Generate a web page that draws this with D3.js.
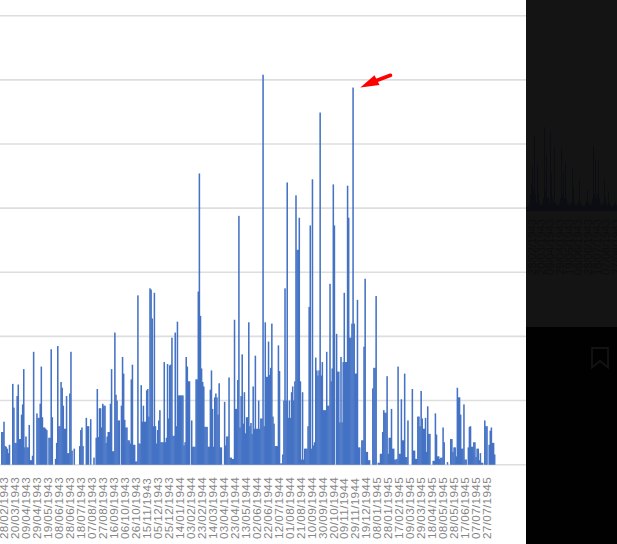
<!DOCTYPE html>
<html><head><meta charset="utf-8">
<style>html,body{margin:0;padding:0;background:#000;overflow:hidden}svg{display:block}</style>
<script src="https://cdn.jsdelivr.net/npm/d3@7"></script>
</head><body><svg id="c" width="617" height="544"></svg>
<script>
// Values, one every two days, starting four days before the first tick label
const seriesValues = [
51,51,67,29,28,25,18,31,0,0,
126,89,34,34,107,125,40,40,78,94,
149,27,44,27,27,62,7,7,14,176,
0,0,80,73,73,95,153,74,58,58,
56,54,0,42,42,180,74,0,0,9,
34,185,60,60,129,120,92,56,56,107,
18,18,111,176,22,0,25,0,0,0,
0,29,54,58,29,0,0,73,60,60,
0,71,0,0,11,0,42,118,43,88,
88,58,95,92,92,34,44,51,51,95,
149,21,21,206,109,100,69,69,0,92,
168,142,70,58,58,38,38,33,133,156,
31,31,5,5,264,33,33,124,67,92,
67,67,116,118,75,275,273,228,60,268,
60,33,54,69,85,35,35,35,160,35,
42,157,72,155,156,198,45,45,206,60,
223,108,108,108,108,108,30,35,168,153,
130,130,0,69,28,28,28,133,133,270,
454,232,150,129,122,59,59,59,28,28,
117,147,87,28,105,111,105,78,127,27,
27,0,0,98,30,44,44,136,11,11,
9,9,226,87,87,132,388,58,107,172,
64,113,49,74,74,222,60,65,48,122,
56,170,56,56,100,56,72,72,608,60,
222,137,137,192,140,151,220,75,64,29,
29,29,186,146,2,2,16,100,275,100,
440,73,100,73,113,122,100,130,420,335,
335,385,130,8,113,8,25,25,25,60,
246,373,25,445,30,35,167,147,139,147,
549,139,160,85,85,85,176,92,92,282,
130,150,437,373,0,204,145,145,66,168,
66,160,268,160,160,435,385,198,198,220,
588,220,142,142,257,27,27,0,38,38,
184,290,20,20,7,7,0,0,119,151,
151,263,0,3,3,17,17,51,85,81,
81,138,17,42,42,87,25,25,8,8,
9,153,17,17,102,38,38,142,12,12,
69,0,0,0,118,22,22,9,9,75,
75,60,115,72,56,56,73,20,91,48,
48,0,0,6,6,80,47,13,13,9,
11,11,58,35,0,0,4,0,0,40,
40,20,27,27,13,120,105,105,78,25,
25,94,8,8,0,27,59,60,28,28,
35,35,12,25,25,7,18,3,3,0,
69,60,60,0,31,53,58,34,34,16
];
const tickLabels = [
"28/02/1943","20/03/1943","09/04/1943","29/04/1943","19/05/1943","08/06/1943","28/06/1943","18/07/1943","07/08/1943",
"27/08/1943","16/09/1943","06/10/1943","26/10/1943","15/11/1943","05/12/1943","25/12/1943","14/01/1944","03/02/1944",
"23/02/1944","14/03/1944","03/04/1944","23/04/1944","13/05/1944","02/06/1944","22/06/1944","12/07/1944","01/08/1944",
"21/08/1944","10/09/1944","30/09/1944","20/10/1944","09/11/1944","29/11/1944","19/12/1944","08/01/1945","28/01/1945",
"17/02/1945","09/03/1945","29/03/1945","18/04/1945","08/05/1945","28/05/1945","17/06/1945","07/07/1945","27/07/1945"
];
const gridValues = [0,100,200,300,400,500,600,700];
// Dimmed copy of the chart seen behind the dark panel
const ghostValues = [
30,30,40,60,120,200,330,150,535,120,60,335,130,60,40,40,60,90,600,150,400,90,100,60,564,270,100,60,457,
60,50,40,40,60,90,450,120,280,90,350,90,60,50,40,40,60,307,170,60,40,40,50,70,220,60,40,40,30,40,50,70,
150,60,50,40,60,90,464,120,370,100,120,357,90,60,40,50,60,228,90,60,40,135,60,40,30,30,40,50,64,40
];
const ghostLabels = tickLabels.slice(0,10);

const svg = d3.select("#c");
const x = d3.scaleLinear().domain([0,880]).range([4,487]);
const y = d3.scaleLinear().domain([0,700]).range([464.7,15.7]);
const step = x(2)-x(0);
const barW = step*1.4;

svg.append("rect").attr("width",526).attr("height",544).attr("fill","#fff");
svg.append("g").selectAll("line").data(gridValues).join("line")
  .attr("x1",0).attr("x2",526).attr("y1",d=>y(d)).attr("y2",d=>y(d))
  .attr("stroke","#dedede").attr("stroke-width",1.6);

svg.append("g").selectAll("rect").data(seriesValues).join("rect")
  .attr("x",(d,i)=>x(-4+2*i)-barW/2).attr("width",d=>d>0?barW:0)
  .attr("y",d=>y(d)).attr("height",d=>y(0)-y(d))
  .attr("fill","#4472c4");

const labelDays = d3.range(tickLabels.length).map(i=>i*20);
svg.append("g").selectAll("text").data(tickLabels).join("text")
  .attr("transform",(d,i)=>`translate(${x(labelDays[i])+4.2},539) rotate(-90)`)
  .attr("font-family","'Liberation Sans',Arial,sans-serif").attr("font-size",11.8)
  .attr("letter-spacing",0.3)
  .attr("fill","#858585").text(d=>d);

// Red arrow
svg.append("line").attr("x1",390.5).attr("y1",75.3).attr("x2",374).attr("y2",81.5)
  .attr("stroke","#fe0000").attr("stroke-width",3.6).attr("stroke-linecap","round");
svg.append("path").attr("d","M360.3,87.4L374.5,75.3L379.5,85Z").attr("fill","#fe0000");

// Dark side panel
svg.append("rect").attr("x",526).attr("width",91).attr("height",327).attr("fill","#141414");
svg.append("rect").attr("x",526).attr("y",327).attr("width",91).attr("height",217).attr("fill","#010101");
const gx = d3.scaleLinear().domain([0,ghostValues.length]).range([526,617]);
const gy = d3.scaleLinear().domain([0,600]).range([211,127]);
svg.append("g").selectAll("rect").data(ghostValues).join("rect")
  .attr("x",(d,i)=>gx(i)).attr("width",gx(1)-gx(0))
  .attr("y",d=>gy(d)).attr("height",d=>gy(0)-gy(d)).attr("fill","#0b0d13");
svg.append("g").selectAll("text").data(ghostLabels).join("text")
  .attr("transform",(d,i)=>`translate(${535.7+i*9.33},275) rotate(-90)`)
  .attr("font-family","'Liberation Sans',Arial,sans-serif").attr("font-size",11.2)
  .attr("fill","#0d0d0d").text(d=>d);
// Bookmark icon
svg.append("path").attr("d","M592,348H608V367.5L600,361L592,367.5Z")
  .attr("fill","none").attr("stroke","#131313").attr("stroke-width",1.8);
</script></body></html>
